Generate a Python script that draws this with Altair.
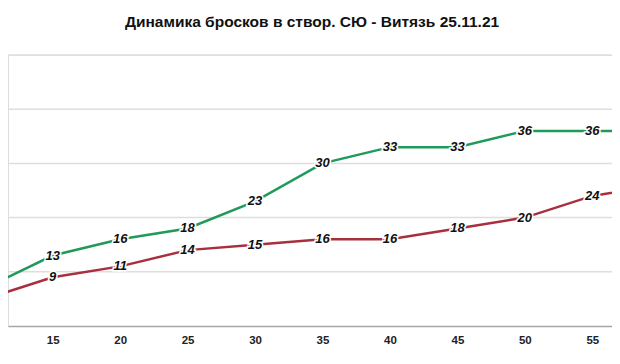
import altair as alt
import pandas as pd

minutes = [10, 15, 20, 25, 30, 35, 40, 45, 50, 55, 60]
team_a = [7, 13, 16, 18, 23, 30, 33, 33, 36, 36, 36]   # green
team_b = [5, 9, 11, 14, 15, 16, 16, 18, 20, 24, 26]    # red
series_names = ["СЮ", "Витязь"]
series_colors = ["#1f9a5b", "#a8303e"]
x_ticks = [15, 20, 25, 30, 35, 40, 45, 50, 55]
y_grid = [10, 20, 30, 40, 50]

rows = []
for m, a, b in zip(minutes, team_a, team_b):
    rows.append({"m": m, "v": a, "s": series_names[0]})
    rows.append({"m": m, "v": b, "s": series_names[1]})
df = pd.DataFrame(rows)
grid_df = pd.DataFrame({"g": y_grid})

FONT = "Liberation Sans"

x = alt.X("m:Q",
          scale=alt.Scale(domain=[11.687, 56.46], nice=False, zero=False),
          axis=alt.Axis(values=x_ticks, title=None, ticks=False, grid=False,
                        domainColor="#a6a6a6", domainWidth=1.5,
                        labelFont=FONT, labelFontSize=11.5, labelFontWeight="bold",
                        labelColor="#222222", labelPadding=8, labelFlush=False))
yscale = alt.Scale(domain=[0, 50], nice=False)
y = alt.Y("v:Q", scale=yscale, axis=None)
color = alt.Color("s:N", scale=alt.Scale(domain=series_names, range=series_colors),
                  legend=None)

grid = alt.Chart(grid_df).mark_rule(color="#dedede", strokeWidth=1.5).encode(
    y=alt.Y("g:Q", scale=yscale, axis=None))

base = alt.Chart(df)
lines = base.mark_line(strokeWidth=2.5, clip=True).encode(x=x, y=y, color=color,
                                                          detail="s:N")
halo = base.mark_text(font=FONT, fontSize=13, fontWeight="bold", fontStyle="italic",
                      color="white", stroke="white", strokeWidth=3, clip=True,
                      align="center", baseline="middle").encode(
    x="m:Q", y="v:Q", text="v:Q")
labels = base.mark_text(font=FONT, fontSize=13, fontWeight="bold", fontStyle="italic",
                        color="#111111", clip=True,
                        align="center", baseline="middle").encode(
    x="m:Q", y="v:Q", text="v:Q")

chart = alt.layer(grid, lines, halo, labels).properties(
    width=604, height=271,
    title=alt.TitleParams("Динамика бросков в створ. СЮ - Витязь 25.11.21",
                          font=FONT, fontSize=15.5, fontWeight="bold", color="#111111",
                          anchor="middle", dx=2, offset=12, baseline="alphabetic",
                          frame="group"),
    autosize=alt.AutoSizeParams(type="none"),
    padding={"left": 0, "top": 47, "right": 0, "bottom": 18},
).configure_view(
    stroke="transparent", strokeWidth=0, strokeOpacity=0
).configure(background="white")

chart.save("out.html", embed_options={"renderer": "svg", "actions": False})
